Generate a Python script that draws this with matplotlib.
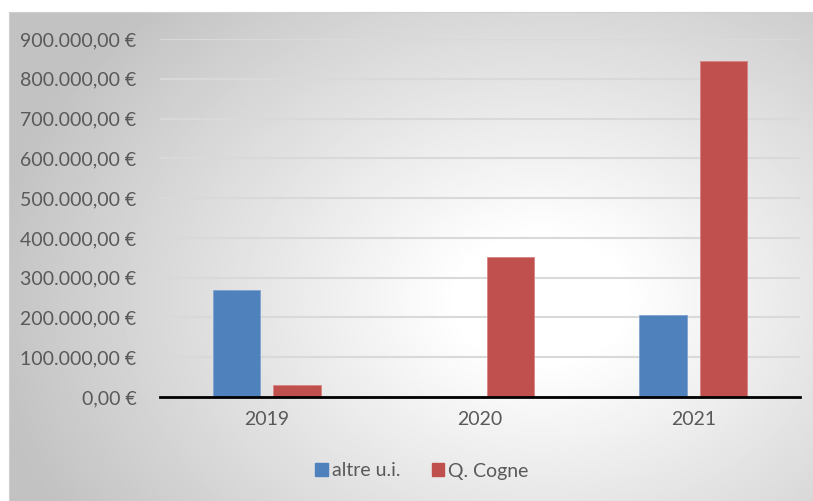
import numpy as np
import matplotlib.pyplot as plt
from matplotlib.patches import Patch

years = ["2019", "2020", "2021"]
altre_ui = [269000, 0, 206000]
q_cogne = [30000, 352000, 844000]
yticks = [0, 100000, 200000, 300000, 400000, 500000, 600000, 700000, 800000, 900000]


def euro(v):
    s = f"{v:,.2f}".replace(",", "X").replace(".", ",").replace("X", ".")
    return s + " €"


plt.rcParams['font.family'] = ['Lato', 'DejaVu Sans']
W, H = 813, 501
fig = plt.figure(figsize=(W / 100, H / 100), dpi=100)

# radial gradient background of the chart area
bx0, by0 = 9, 12
bg = fig.add_axes([bx0 / W, 0, 1 - bx0 / W, 1 - by0 / H])
gx, gy = np.meshgrid(np.linspace(bx0, W, 400), np.linspace(by0, H, 250))
r = np.hypot((gx - 540) / 560, (gy - 300) / 420)
shade = 1 - 0.24 * np.clip((r - 0.15) / 0.85, 0, 1)
bg.imshow(shade, cmap='gray', vmin=0, vmax=1, extent=[0, 1, 0, 1], aspect='auto')
bg.set_xticks([])
bg.set_yticks([])
for s in bg.spines.values():
    s.set_color('#d0d0d0')

ax = fig.add_axes([160 / W, 1 - 397 / H, 640 / W, (397 - 39) / H])
ax.patch.set_alpha(0)
x = np.arange(len(years))
w = 0.222
off = 0.142
ax.bar(x - off, altre_ui, w, color='#4F81BD', edgecolor='#7fa3d0', linewidth=0.6, zorder=3)
ax.bar(x + off, q_cogne, w, color='#C0504D', edgecolor='#d98583', linewidth=0.6, zorder=3)

ax.set_xlim(-0.5, 2.5)
ax.set_ylim(0, 900000)
ax.set_yticks(yticks)
ax.set_yticklabels([euro(v) for v in yticks])
ax.set_xticks(x)
ax.set_xticklabels(years)
ax.tick_params(axis='both', length=0, labelsize=14, colors='#595959')
ax.tick_params(axis='y', pad=17)
ax.tick_params(axis='x', pad=10)
ax.grid(axis='y', color='#d9d9d9', linewidth=1.5, zorder=0)
for side in ['top', 'right', 'left']:
    ax.spines[side].set_visible(False)
ax.spines['bottom'].set_color('black')
ax.spines['bottom'].set_linewidth(2)
ax.spines['bottom'].set_zorder(4)

handles = [Patch(color='#4F81BD', label='altre u.i.'), Patch(color='#C0504D', label='Q. Cogne')]
fig.legend(handles=handles, loc='center', bbox_to_anchor=(0.519, 1 - 471 / H), ncol=2,
           frameon=False, fontsize=14, labelcolor='#595959', handlelength=0.65, handleheight=0.65,
           handletextpad=0.2, columnspacing=1.6)

fig.savefig('out.png', dpi=100)
